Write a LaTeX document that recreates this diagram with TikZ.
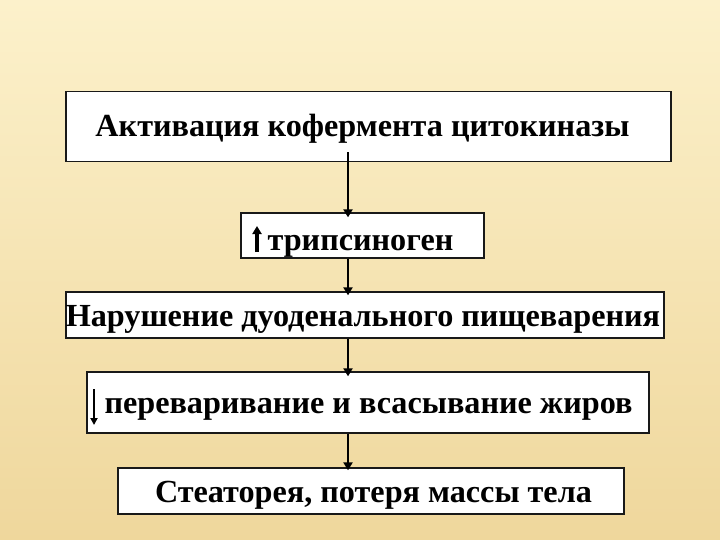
\documentclass[tikz,border=0pt]{standalone}
\usepackage{fontspec}
\setmainfont{Liberation Serif}
\usetikzlibrary{arrows.meta,calc}
\definecolor{bgtop}{HTML}{FCF1CB}
\definecolor{bgmid}{HTML}{F9E8B9}
\definecolor{bgbot}{HTML}{EFD79C}
\tikzset{
  box/.style={draw=black!90, line width=1.3pt, fill=white, inner sep=0pt, text depth=0pt, font=\fontsize{32.2}{34}\selectfont\bfseries},
  conn/.style={line width=2.6pt, -{Triangle[length=8pt,width=9pt]}},
  uparrow/.style={line width=3.2pt, -{Triangle[length=8pt,width=9pt]}},
  dnarrow/.style={line width=2pt, -{Triangle[length=7pt,width=7pt]}}
}
\begin{document}
\begin{tikzpicture}[x=1pt,y=-1pt]
\useasboundingbox (0,0) rectangle (720,540);
\shade[top color=bgtop, middle color=bgmid, bottom color=bgbot] (0,0) rectangle (720,540);
\coordinate (ax) at (348,0);
% text height = 2*(baseline - center)
\node[box, minimum width=605pt, minimum height=70pt, text height=20pt] (b1) at (368.5,126.5) {\hspace*{-12pt}Активация кофермента цитокиназы};
\node[box, minimum width=243pt, minimum height=45pt, text height=29pt] (b2) at (362.5,235.5) {\hspace*{-4pt}трипсиноген};
\node[box, minimum width=598pt, minimum height=46pt, text height=22pt] (b3) at (365,315) {\hspace*{-4pt}Нарушение дуоденального пищеварения};
\node[box, minimum width=562pt, minimum height=61pt, text height=22pt] (b4) at (368,402.5) {\hspace*{1pt}переваривание и всасывание жиров};
\node[box, minimum width=506pt, minimum height=46pt, text height=22pt] (b5) at (371,491) {\hspace*{5pt}Стеаторея, потеря массы тела};
\coordinate (upb) at (257,252);
\coordinate (upt) at (257,226);
\draw[uparrow] (upb) -- (upt);
\coordinate (dnt) at (94,389);
\coordinate (dnb) at (94,425);
\draw[dnarrow] (dnt) -- (dnb);
\draw[conn] ([yshift=10pt]b1.south -| ax) -- ([yshift=-5pt]b2.north -| ax);
\draw[conn] (b2.south -| ax) -- ([yshift=-4pt]b3.north -| ax);
\draw[conn] (b3.south -| ax) -- ([yshift=-5pt]b4.north -| ax);
\draw[conn] (b4.south -| ax) -- ([yshift=-3pt]b5.north -| ax);
\end{tikzpicture}
\end{document}
